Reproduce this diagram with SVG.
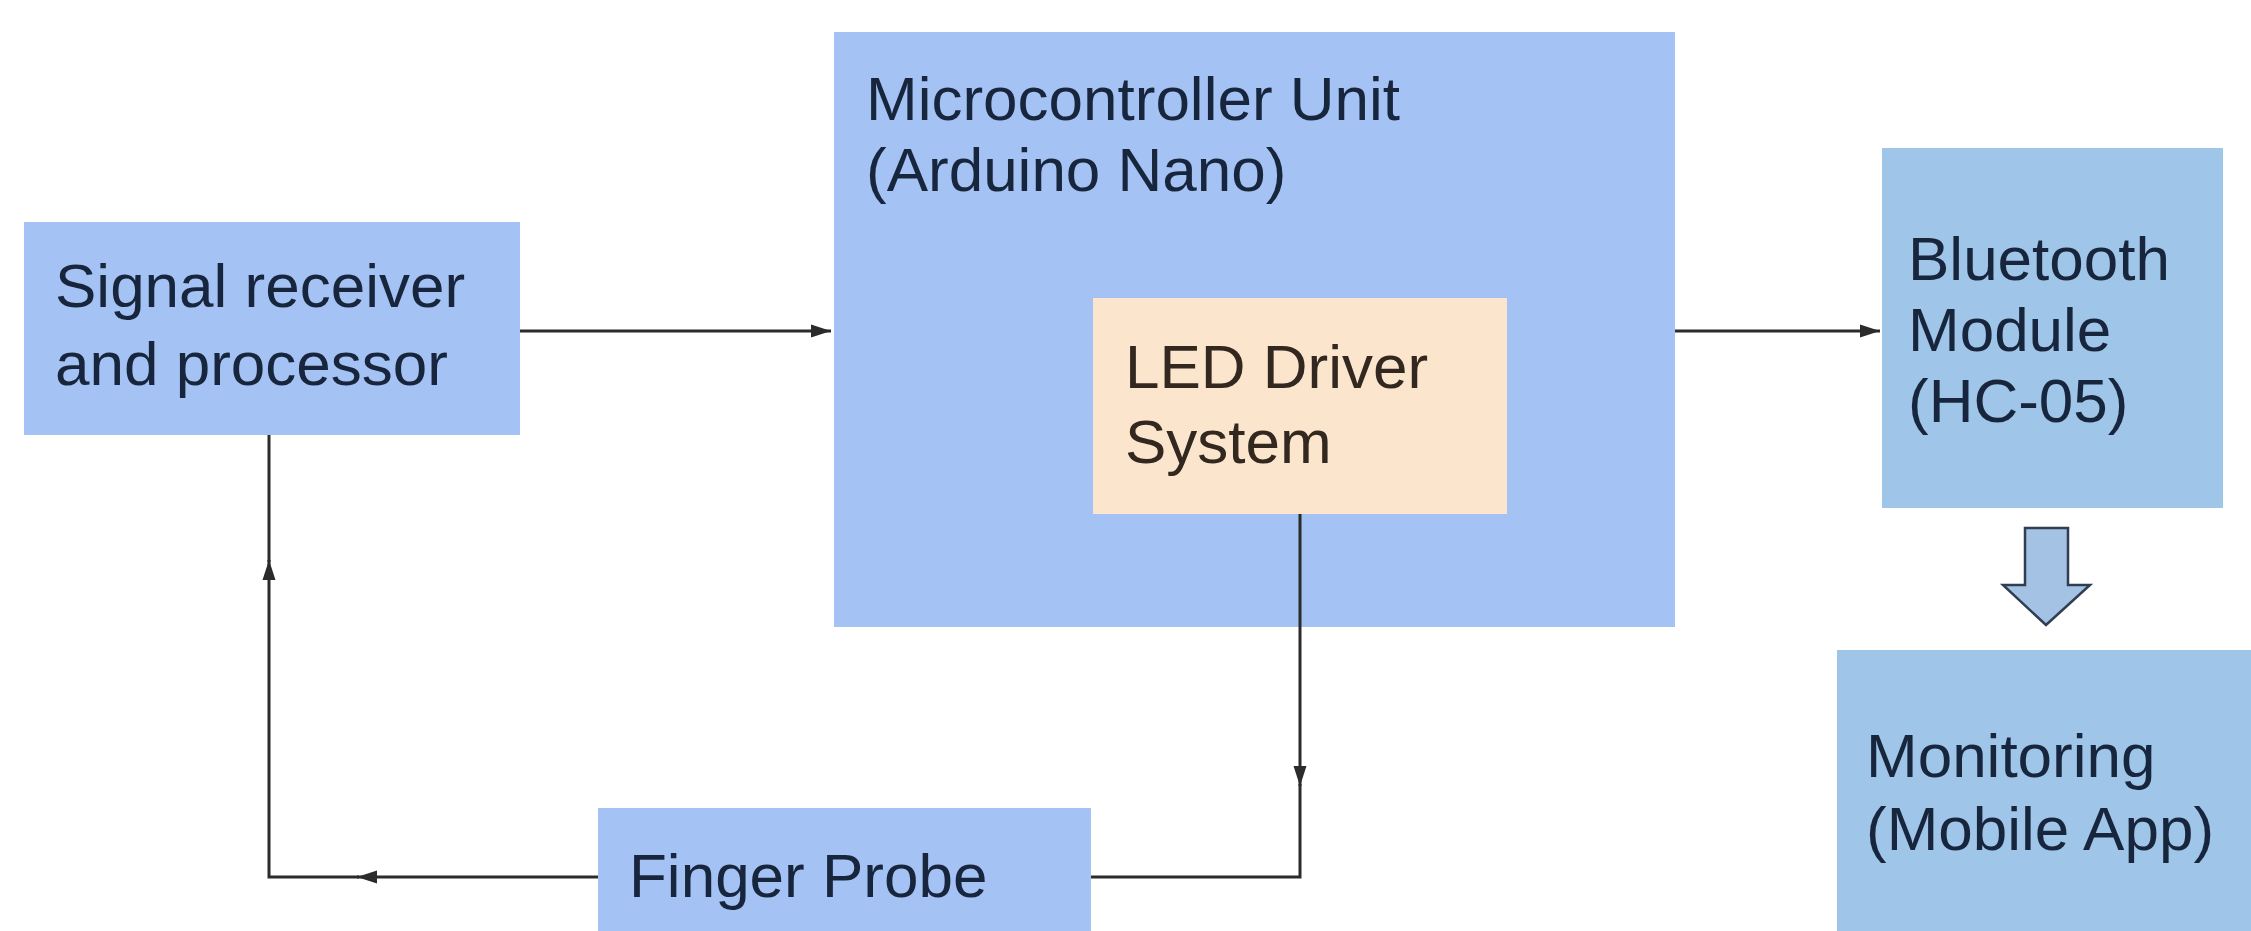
<svg xmlns="http://www.w3.org/2000/svg" width="2251" height="931" viewBox="0 0 2251 931">
<style>
.bx{fill:#a4c2f4}
.bx2{fill:#9fc5e8}
.led{fill:#fce5cd}
.t{font-family:"Liberation Sans",Arial,sans-serif;font-size:62px;fill:#18263d}
.tl{font-family:"Liberation Sans",Arial,sans-serif;font-size:62px;fill:#33281f}
.c{fill:none;stroke:#2b2b2b;stroke-width:3}
</style>
<defs>
<marker id="ah" markerUnits="userSpaceOnUse" markerWidth="22" markerHeight="16" refX="20" refY="8" orient="auto">
<path d="M0,1.5 L20,8 L0,14.5 Z" fill="#2b2b2b"/>
</marker>
</defs>
<rect width="2251" height="931" fill="#ffffff"/>
<g id="signal">
<rect class="bx" x="24" y="222" width="496" height="213"/>
<text class="t" x="55" y="307">Signal receiver</text>
<text class="t" x="55" y="385">and processor</text>
</g>
<g id="mcu">
<rect class="bx" x="834" y="32" width="841" height="595"/>
<text class="t" x="866" y="120">Microcontroller Unit</text>
<text class="t" x="866" y="191">(Arduino Nano)</text>
</g>
<g id="led">
<rect class="led" x="1093" y="298" width="414" height="216"/>
<text class="tl" x="1125" y="388">LED Driver</text>
<text class="tl" x="1125" y="463">System</text>
</g>
<g id="bluetooth">
<rect class="bx2" x="1882" y="148" width="341" height="360"/>
<text class="t" x="1908" y="280">Bluetooth</text>
<text class="t" x="1908" y="351">Module</text>
<text class="t" x="1908" y="422">(HC-05)</text>
</g>
<g id="monitoring">
<rect class="bx2" x="1837" y="650" width="414" height="281"/>
<text class="t" x="1866" y="777">Monitoring</text>
<text class="t" x="1866" y="850">(Mobile App)</text>
</g>
<g id="finger">
<rect class="bx" x="598" y="808" width="493" height="123"/>
<text class="t" x="629" y="897">Finger Probe</text>
</g>
<g id="connectors">
<path class="c" d="M520,331 H831" marker-end="url(#ah)"/>
<path class="c" d="M1675,331 H1880" marker-end="url(#ah)"/>
<path class="c" d="M1300,514 V786" marker-end="url(#ah)"/>
<path class="c" d="M1300,784 V877 H1091"/>
<path class="c" d="M598,877 H357" marker-end="url(#ah)"/>
<path class="c" d="M359,877 H269 V560" marker-end="url(#ah)"/>
<path class="c" d="M269,562 V435"/>
<path id="block-arrow" d="M2025,528 H2068 V585 H2090 L2046,625 L2003,585 H2025 Z" fill="#a4c2e4" stroke="#2f3e52" stroke-width="2.5" stroke-linejoin="miter"/>
</g>
</svg>
